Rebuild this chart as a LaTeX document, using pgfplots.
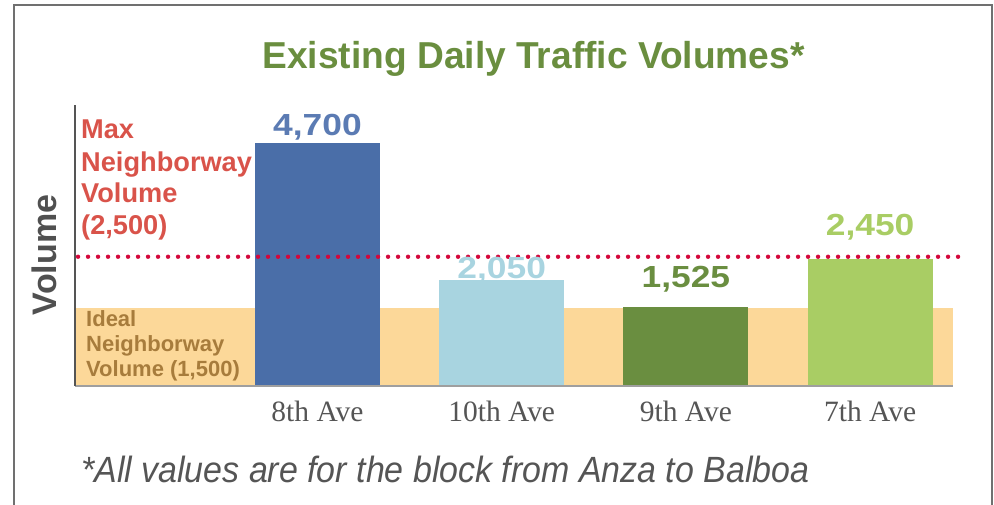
\documentclass[border=0pt]{standalone}
\usepackage{fontspec}
\setmainfont{Liberation Sans}
\newfontfamily\titlefont[FakeStretch=0.99]{Liberation Sans}
\newfontfamily\numfont[FakeStretch=1.16]{Liberation Sans}
\newfontfamily\footfont[FakeStretch=0.93]{Liberation Sans}
\newfontfamily\seriffont{Liberation Serif}
\usepackage{pgfplots}
\pgfplotsset{compat=1.18}
\definecolor{barA}{HTML}{4A6EA8}
\definecolor{labA}{HTML}{5B7BB3}
\definecolor{barB}{HTML}{A8D4E0}
\definecolor{barC}{HTML}{6A8E40}
\definecolor{barD}{HTML}{A9CD64}
\definecolor{bandc}{HTML}{FCD899}
\definecolor{dotc}{HTML}{D4083C}
\definecolor{redlab}{HTML}{D9534A}
\definecolor{brownlab}{HTML}{A77C3C}
\definecolor{titlec}{HTML}{6A8E3F}
\definecolor{volc}{HTML}{505050}
\definecolor{tickc}{HTML}{555555}
\definecolor{framec}{HTML}{707070}
\begin{document}
\begin{tikzpicture}
\useasboundingbox (0,0) rectangle (994pt,505pt);
\draw[framec, line width=2pt] (14pt,0pt) -- (14pt,500pt) -- (992pt,500pt) -- (992pt,0pt);
\begin{axis}[
  at={(75pt,119pt)}, anchor=south west,
  scale only axis, width=878pt, height=281pt,
  xmin=-1.3165, xmax=3.4501, ymin=0, ymax=5435,
  axis x line*=bottom, axis y line*=left,
  x axis line style={-, draw=gray!75, line width=2.5pt},
  y axis line style={-, draw=tickc, line width=1.2pt},
  ytick=\empty,
  xtick={0,1,2,3},
  xticklabels={8th Ave,10th Ave,9th Ave,7th Ave},
  major tick length=0pt,
  xticklabel style={anchor=base, yshift=-36pt, font=\seriffont\fontsize{29.5}{32}\selectfont, text=tickc},
  clip=false, axis on top,
]
\addplot[draw=none, fill=bandc] coordinates {(-1.3165,1500) (3.4501,1500)} \closedcycle;
\addplot[ybar, bar width=125pt, bar shift=0pt, fill=barA, draw=none,
  nodes near coords={4,700}, every node near coord/.style={anchor=base, yshift=7pt, text=labA, font=\numfont\bfseries\fontsize{30.5}{32}\selectfont}]
  coordinates {(0,4700)};
\addplot[ybar, bar width=125pt, bar shift=0pt, fill=barB, draw=none,
  nodes near coords={2,050}, every node near coord/.style={anchor=base, yshift=2pt, text=barB, font=\numfont\bfseries\fontsize{30.5}{32}\selectfont}]
  coordinates {(1,2050)};
\addplot[ybar, bar width=125pt, bar shift=0pt, fill=barC, draw=none,
  nodes near coords={1,525}, every node near coord/.style={anchor=base, yshift=20pt, text=barC, font=\numfont\bfseries\fontsize{30.5}{32}\selectfont}]
  coordinates {(2,1525)};
\addplot[ybar, bar width=125pt, bar shift=0pt, fill=barD, draw=none,
  nodes near coords={2,450}, every node near coord/.style={anchor=base, yshift=24pt, text=barD, font=\numfont\bfseries\fontsize{30.5}{32}\selectfont}]
  coordinates {(3,2450)};
\addplot[dotc, line width=4.4pt, line cap=round, dash pattern=on 0pt off 10pt]
  coordinates {(-1.300,2500) (3.49,2500)};
\end{axis}
% title
\node[anchor=base, text=titlec, font=\titlefont\bfseries\fontsize{37.5}{40}\selectfont, inner sep=0pt] at (533.5pt,436.7pt) {Existing Daily Traffic Volumes*};
% max label
\begin{scope}[every node/.style={anchor=base west, inner sep=0pt, text=redlab, font=\bfseries\fontsize{27.2}{30}\selectfont}]
\node at (81pt,366pt) {Max};
\node at (81pt,333pt) {Neighborway};
\node at (81pt,302pt) {Volume};
\node at (81pt,270pt) {(2,500)};
\end{scope}
% ideal label
\begin{scope}[every node/.style={anchor=base west, inner sep=0pt, text=brownlab, font=\bfseries\fontsize{22}{25}\selectfont}]
\node at (86pt,178pt) {Ideal};
\node at (86pt,153pt) {Neighborway};
\node at (86pt,128pt) {Volume (1,500)};
\end{scope}
% y label
\node[rotate=90, anchor=base, inner sep=0pt, text=volc, font=\bfseries\fontsize{34}{36}\selectfont] at (57pt,250pt) {Volume};
% footnote
\node[anchor=base west, inner sep=0pt, text=tickc, font=\footfont\itshape\fontsize{36.5}{40}\selectfont] at (81pt,22pt) {*All values are for the block from Anza to Balboa};
\end{tikzpicture}
\end{document}
